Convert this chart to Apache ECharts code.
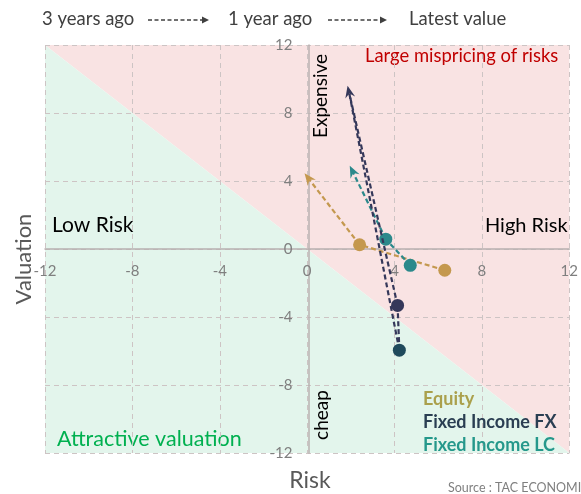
<!DOCTYPE html>
<html>
<head>
<meta charset="utf-8">
<script src="https://cdn.jsdelivr.net/npm/echarts@6/dist/echarts.min.js"></script>
<style>
  html, body { margin: 0; padding: 0; background: #ffffff; }
  #chart { width: 581px; height: 494px; }
</style>
</head>
<body>
<div id="chart"></div>
<script>
// Risk / valuation positions: 3 years ago -> 1 year ago -> latest value
var seriesNames = ['Equity', 'Fixed Income FX', 'Fixed Income LC'];

var equityRisk = [6.3, 2.4, -0.12];
var equityValuation = [-1.25, 0.25, 4.45];

var fxRisk = [4.22, 4.14, 1.85];
var fxValuation = [-5.95, -3.32, 9.6];

var lcRisk = [4.72, 3.6, 1.95];
var lcValuation = [-0.96, 0.58, 4.9];

var axisTicks = [-12, -8, -4, 0, 4, 8, 12];

var FONT = 'Lato, "Open Sans", sans-serif';
var colors = {
  equity: '#c4984e',
  fx: '#35385a',
  fxOld: '#1f4a5c',
  lc: '#2b898b',
  pink: '#f9e3e3',
  green: '#e3f5ec'
};

var GRID = { left: 45, right: 9, top: 45, bottom: 41 };
var CHART_W = 581, CHART_H = 494;
var plotW = CHART_W - GRID.left - GRID.right;
var plotH = CHART_H - GRID.top - GRID.bottom;

function pairs(xs, ys) {
  return xs.map(function (x, i) { return [x, ys[i]]; });
}

// Dashed path through the points, dots on all but the last, arrowhead on the last.
function pathRenderer(points, lineColor, dotColors, extraLinks) {
  return function (params, api) {
    if (params.dataIndex !== 0) return;
    var px = points.map(function (p) { return api.coord(p); });
    var n = px.length;
    var children = [];
    var tip = px[n - 1], prev = px[n - 2];
    var dx = tip[0] - prev[0], dy = tip[1] - prev[1];
    var len = Math.sqrt(dx * dx + dy * dy);
    var ux = dx / len, uy = dy / len;
    var L = 12, W = 5, notch = 8;
    var back = [tip[0] - ux * notch, tip[1] - uy * notch];
    var lineStyle = { stroke: lineColor, lineWidth: 2.2, lineDash: [5, 3], fill: null };
    var links = [];
    for (var i = 1; i < n; i++) links.push([i - 1, i]);
    (extraLinks || []).forEach(function (l) { links.push(l); });
    links.forEach(function (l) {
      var a = px[l[0]];
      var b = l[1] === n - 1 ? back : px[l[1]];
      children.push({ type: 'line', z2: 1, shape: { x1: a[0], y1: a[1], x2: b[0], y2: b[1] }, style: lineStyle });
    });
    children.push({
      type: 'polygon', z2: 5,
      shape: { points: [
        tip,
        [tip[0] - ux * L - uy * W, tip[1] - uy * L + ux * W],
        back,
        [tip[0] - ux * L + uy * W, tip[1] - uy * L - ux * W]
      ] },
      style: { fill: lineColor }
    });
    for (var k = 0; k < n - 1; k++) {
      children.push({ type: 'circle', z2: 10, shape: { cx: px[k][0], cy: px[k][1], r: 6.5 }, style: { fill: dotColors[k] } });
    }
    return { type: 'group', children: children };
  };
}

// Small dashed arrow used in the header between the time labels
function headerArrow(x1, x2, y) {
  return {
    type: 'group',
    children: [
      { type: 'line', shape: { x1: x1, y1: y, x2: x2 - 6, y2: y },
        style: { stroke: '#404040', lineWidth: 1.6, lineDash: [4, 2.5] } },
      { type: 'polygon', shape: { points: [[x2 - 7, y - 3.5], [x2, y], [x2 - 7, y + 3.5]] },
        style: { fill: '#404040' } }
    ]
  };
}

var chart = echarts.init(document.getElementById('chart'), null, { renderer: 'canvas' });

function axis(extra) {
  var base = {
    type: 'value', min: -12, max: 12, interval: 4,
    axisLine: { onZero: false, lineStyle: { color: '#b8b0b0', width: 1.5 } },
    axisTick: { show: false },
    splitLine: { show: true, lineStyle: { type: [5, 4], color: '#cdc4c4', width: 1 } },
    axisLabel: {
      color: '#7f7f7f', fontFamily: FONT, fontSize: 15,
      showMinLabel: true, showMaxLabel: true, hideOverlap: false,
      customValues: axisTicks
    }
  };
  return echarts.util.merge(base, extra, true);
}

var option = {
  animation: false,
  grid: { left: GRID.left, right: GRID.right, top: GRID.top, bottom: GRID.bottom, containLabel: false },
  // axes drawn through the origin (crossing at 0, 0)
  xAxis: axis({ position: 'bottom', offset: -plotH / 2, axisLabel: { margin: 15 } }),
  yAxis: axis({ position: 'left', offset: -plotW / 2, axisLabel: { margin: 16 } }),
  legend: {
    orient: 'vertical', left: 413, top: 385, itemGap: 5,
    icon: 'none', itemWidth: 0, itemHeight: 0, selectedMode: false,
    textStyle: { fontFamily: FONT, fontSize: 18, fontWeight: 'bold' },
    data: [
      { name: seriesNames[0], textStyle: { color: '#aaa04c' } },
      { name: seriesNames[1], textStyle: { color: '#2a3e52' } },
      { name: seriesNames[2], textStyle: { color: '#25988b' } }
    ]
  },
  series: [
    {
      type: 'custom', name: 'zones', z: -1, silent: true,
      data: [[0, 0]],
      renderItem: function (params, api) {
        var tl = api.coord([-12, 12]), tr = api.coord([12, 12]);
        var bl = api.coord([-12, -12]), br = api.coord([12, -12]);
        return {
          type: 'group', children: [
            { type: 'polygon', shape: { points: [tl, tr, br] }, style: { fill: colors.pink } },
            { type: 'polygon', shape: { points: [tl, br, bl] }, style: { fill: colors.green } }
          ]
        };
      }
    },
    {
      type: 'custom', name: seriesNames[0], z: 3,
      data: pairs(equityRisk, equityValuation),
      renderItem: pathRenderer(pairs(equityRisk, equityValuation), colors.equity, [colors.equity, colors.equity])
    },
    {
      type: 'custom', name: seriesNames[2], z: 4,
      data: pairs(lcRisk, lcValuation),
      renderItem: pathRenderer(pairs(lcRisk, lcValuation), colors.lc, [colors.lc, colors.lc])
    },
    {
      type: 'custom', name: seriesNames[1], z: 5,
      data: pairs(fxRisk, fxValuation),
      renderItem: pathRenderer(pairs(fxRisk, fxValuation), colors.fx, [colors.fxOld, colors.fx], [[0, 2]])
    }
  ],
  graphic: [
    { type: 'text', left: 42, top: 10, style: { text: '3 years ago', font: '18.5px ' + FONT, fill: '#404040' } },
    headerArrow(148, 209, 20),
    { type: 'text', left: 228, top: 10, style: { text: '1 year ago', font: '18.5px ' + FONT, fill: '#404040' } },
    headerArrow(328, 387, 20),
    { type: 'text', left: 409, top: 10, style: { text: 'Latest value', font: '18.5px ' + FONT, fill: '#404040' } },

    { type: 'text', left: 365, top: 47, style: { text: 'Large mispricing of risks', font: '18.4px ' + FONT, fill: '#c00000' } },
    { type: 'text', x: 321, y: 96, rotation: Math.PI / 2,
      style: { text: 'Expensive', font: '19px ' + FONT, fill: '#000000', align: 'center', verticalAlign: 'middle' } },
    { type: 'text', x: 322, y: 415, rotation: Math.PI / 2,
      style: { text: 'cheap', font: '19px ' + FONT, fill: '#000000', align: 'center', verticalAlign: 'middle' } },
    { type: 'text', left: 52, top: 215, style: { text: 'Low Risk', font: '21px ' + FONT, fill: '#000000' } },
    { type: 'text', left: 485, top: 216, style: { text: 'High Risk', font: '20px ' + FONT, fill: '#000000' } },
    { type: 'text', left: 57, top: 428, style: { text: 'Attractive valuation', font: '21.5px ' + FONT, fill: '#00b050' } },

    { type: 'text', x: 24, y: 259, rotation: Math.PI / 2,
      style: { text: 'Valuation', font: '22px ' + FONT, fill: '#595959', align: 'center', verticalAlign: 'middle' } },
    { type: 'text', x: 310, y: 481,
      style: { text: 'Risk', font: '23px ' + FONT, fill: '#595959', align: 'center', verticalAlign: 'middle' } },
    { type: 'text', x: 448, y: 488,
      style: { text: 'Source : TAC ECONOMICS', font: '12.5px ' + FONT, fill: '#7f7f7f', verticalAlign: 'middle' } }
  ]
};

chart.setOption(option);
</script>
</body>
</html>
